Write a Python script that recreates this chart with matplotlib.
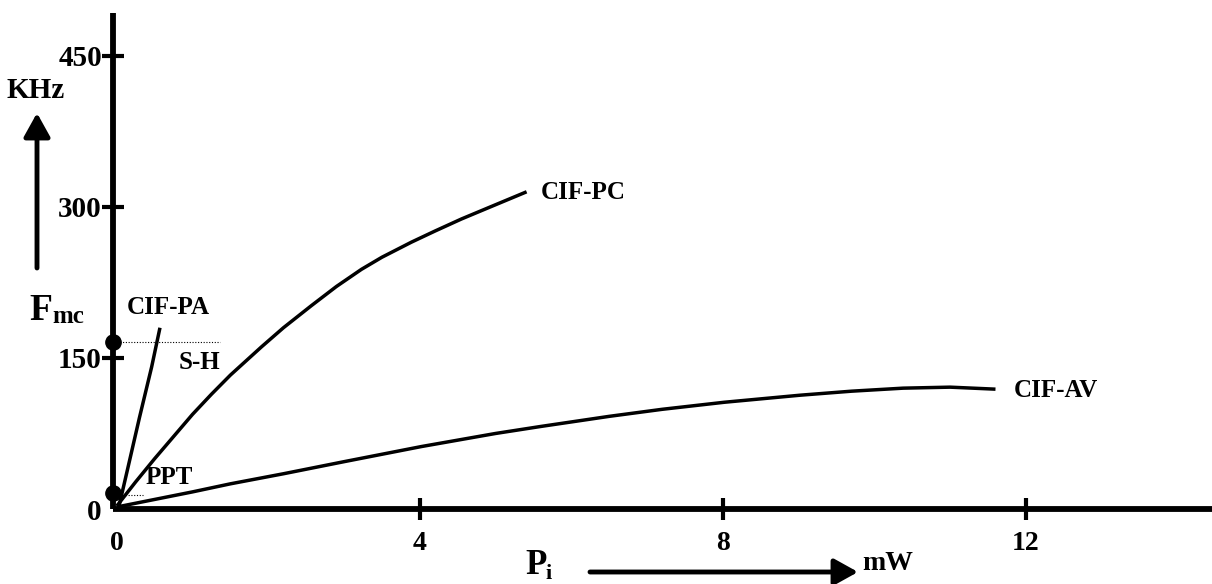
import matplotlib
matplotlib.use("Agg")
import matplotlib.pyplot as plt

# ---- data ----
pa_x = [0.03, 0.15, 0.30, 0.46, 0.57]
pa_y = [3, 42, 91, 141, 180]

pc_x = [0.0, 0.25, 0.5, 0.75, 1.0, 1.25, 1.5, 1.91, 2.2, 2.57, 2.9, 3.23, 3.5, 3.89, 4.2, 4.55, 4.9, 5.41]
pc_y = [3, 27, 50, 72, 94, 114, 133, 161, 180, 202, 221, 238, 250, 265, 276, 288, 299, 315]

av_x = [0.0, 0.5, 1.0, 1.5, 2.2, 3.0, 4.02, 5.0, 5.6, 6.5, 7.2, 8.02, 9.02, 9.7, 10.38, 11.0, 11.6]
av_y = [2, 9.5, 17, 25, 35, 47, 62, 75, 82, 92, 99, 106, 113, 117, 120, 121, 119]

dot_y = [166, 16]
sh_line = [0.0, 1.36]
ppt_line = [0.0, 0.35]

x_ticks = [0, 4, 8, 12]
y_ticks = [0, 150, 300, 450]

serif = "Liberation Serif"

fig = plt.figure(figsize=(12.12, 5.84), dpi=100)
W, H = 1212, 584
ax = fig.add_axes([113 / W, (H - 509) / H, (W - 113) / W, (509 - 13) / H])
ax.set_xlim(-0.05, (W - 113) / 75.75 - 0.05)
ax.set_ylim(0, 496 / 1.007)
for s in ["top", "right"]:
    ax.spines[s].set_visible(False)
for s in ["left", "bottom"]:
    ax.spines[s].set_linewidth(4.2)
    ax.spines[s].set_capstyle("butt")

ax.set_xticks(x_ticks)
ax.set_xticklabels([str(v) for v in x_ticks], fontfamily=serif, fontweight="bold", fontsize=20)
ax.set_yticks(y_ticks)
ax.set_yticklabels([str(v) for v in y_ticks], fontfamily=serif, fontweight="bold", fontsize=21)
ax.tick_params(axis="x", direction="inout", length=16, width=3, pad=8)
ax.tick_params(axis="y", direction="inout", length=16, width=3, pad=0)
ax.xaxis.get_major_ticks()[0].tick1line.set_visible(False)
ax.yaxis.get_major_ticks()[0].tick1line.set_visible(False)

lw = 2.5
for xs, ys in [(pa_x, pa_y), (pc_x, pc_y), (av_x, av_y)]:
    ax.plot(xs, ys, color="black", lw=lw, clip_on=False,
            solid_capstyle="butt", solid_joinstyle="round")

ax.plot(sh_line, [dot_y[0]] * 2, color="black", lw=0.8, ls=(0, (1, 1.5)))
ax.plot(ppt_line, [dot_y[1] - 2] * 2, color="black", lw=0.8, ls=(0, (1, 1.5)))
ax.plot([-0.05, -0.05], dot_y, "o", color="black", ms=11, clip_on=False, zorder=5)

tk = dict(fontfamily=serif, fontweight="bold", fontsize=18, color="black")
ax.text(0.13, 200, "CIF-PA", ha="left", va="center", **tk)
ax.text(0.82, 145, "S-H", ha="left", va="center", **tk)
ax.text(0.38, 31, "PPT", ha="left", va="center", **tk)
ax.text(5.6, 314, "CIF-PC", ha="left", va="center", **tk)
ax.text(11.84, 118, "CIF-AV", ha="left", va="center", **tk)

def fx(px):
    return px / W

def fy(py):
    return 1 - py / H

fig.text(fx(36), fy(90), "KHz", ha="center", va="center", fontfamily=serif,
         fontweight="bold", fontsize=21)
fig.text(fx(29), fy(310), "F", ha="left", va="center", fontfamily=serif,
         fontweight="bold", fontsize=27)
fig.text(fx(52), fy(316), "mc", ha="left", va="center", fontfamily=serif,
         fontweight="bold", fontsize=18)
fig.text(fx(525), fy(565), "P", ha="left", va="center", fontfamily=serif,
         fontweight="bold", fontsize=25)
fig.text(fx(546), fy(574), "i", ha="left", va="center", fontfamily=serif,
         fontweight="bold", fontsize=16)
fig.text(fx(862), fy(563), "mW", ha="left", va="center", fontfamily=serif,
         fontweight="bold", fontsize=20)

fig.add_artist(matplotlib.patches.FancyArrowPatch(
    (fx(37), fy(268)), (fx(37), fy(113)), transform=fig.transFigure,
    arrowstyle="-|>,head_length=9,head_width=5", lw=3.5, color="black",
    mutation_scale=1.6, shrinkA=0, shrinkB=0))
fig.add_artist(matplotlib.patches.FancyArrowPatch(
    (fx(590), fy(572)), (fx(858), fy(572)), transform=fig.transFigure,
    arrowstyle="-|>,head_length=9,head_width=5", lw=3.5, color="black",
    mutation_scale=1.6, shrinkA=0, shrinkB=0))

fig.savefig("out.png", dpi=100, facecolor="white")
